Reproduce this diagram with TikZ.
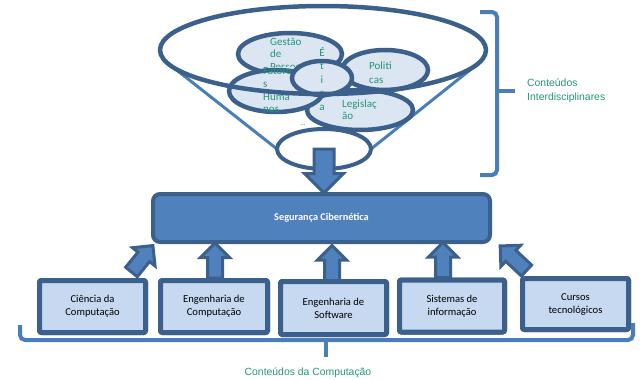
\documentclass[tikz,border=0pt]{standalone}
\usepackage{fontspec}
\setmainfont{Carlito}
\newfontfamily\labelfont{Liberation Sans}
\usetikzlibrary{shapes.geometric,shapes.arrows,calc}
\definecolor{darkblue}{RGB}{59,96,140}
\definecolor{midblue}{RGB}{79,129,189}
\definecolor{lineblue}{RGB}{74,126,187}
\definecolor{boxfill}{RGB}{198,217,241}
\definecolor{petal}{RGB}{220,230,242}
\definecolor{labelgreen}{RGB}{34,150,118}
\begin{document}
\begin{tikzpicture}[x=1pt,y=-1pt,
  petalshape/.style={ellipse, draw=darkblue, line width=4.5pt, fill=petal, inner sep=0, outer sep=0},
  petaltext/.style={text=labelgreen, font=\fontsize{11}{12.5}\selectfont, align=left, inner sep=0, anchor=north west},
  rimline/.style={draw=darkblue, line width=4.5pt},
  funnelside/.style={draw=lineblue, line width=3pt},
  blockarrow/.style={single arrow, draw=darkblue, fill=midblue, line width=3pt, inner xsep=0, inner ysep=6pt, outer sep=0,
    single arrow head extend=7pt, minimum width=26pt, minimum height=35pt},
  coursebox/.style={rectangle, draw=darkblue, fill=boxfill, line width=5pt, rounded corners=2pt,
    minimum width=106pt, minimum height=52pt, align=center, inner sep=0,
    font=\fontsize{10.6}{13}\selectfont},
  bracket/.style={draw=lineblue, line width=4pt, rounded corners=5pt},
  greenlabel/.style={text=labelgreen, font=\labelfont\fontsize{10.4}{14}\selectfont, inner sep=0}
]
\useasboundingbox (0,0) rectangle (640,380);

% funnel rim (outline drawn last) and its narrow end
\path node[ellipse, minimum width=326pt, minimum height=88pt, inner sep=0, outer sep=0] (bigrim) at (323,50) {};
\node[ellipse, minimum width=94pt, minimum height=40pt, inner sep=0, outer sep=0] (narrow) at (324,149) {};
\draw[funnelside] (bigrim.184) -- (narrow.west);
\draw[funnelside] (bigrim.355.6) -- (narrow.east);
\draw[draw=darkblue, line width=4pt, fill=white] (narrow.center) ellipse [x radius=47, y radius=20];

% interdisciplinary topics
\node[petalshape, minimum width=106pt, minimum height=40pt] (legis) at (360,110) {};
\node[petaltext] (legistext) at (342,99.5) {Legislaç\\ão};

\node[petalshape, minimum width=104pt, minimum height=42pt] (gestao) at (290,54) {};
\begin{scope}
  \clip (230,30) rectangle (345,66.5);
  \node[petaltext] (gestaotext) at (270,37.5) {Gestão\\de\\Pessoas};
\end{scope}

\node[petalshape, minimum width=94pt, minimum height=42pt] (fatores) at (276,91) {};
\node[petaltext, font=\fontsize{11}{12.7}\selectfont] (fatorestext) at (263,67.5) {Fatore\\s\\Huma\\nos};

\node[petalshape, minimum width=86pt, minimum height=40pt] (politicas) at (385,70) {};
\node[petaltext, font=\fontsize{11}{14}\selectfont] (politicastext) at (369,61.5) {Politi\\cas};

\node[petalshape, minimum width=60pt, minimum height=34pt] (etica) at (322,78) {};
\node[petaltext, anchor=north, align=center, font=\fontsize{11}{13.5}\selectfont] (eticatext) at (322,47) {É\\t\\i\\c\\a};
\node[text=labelgreen, font=\fontsize{7}{7}\selectfont, inner sep=0] (more) at (303,125) {...};

\draw[rimline] (bigrim.center) ellipse [x radius=163, y radius=44];

% central block
\node[rectangle, draw=darkblue, fill=midblue, line width=4pt, rounded corners=7pt,
  minimum width=337pt, minimum height=48pt, inner sep=0,
  font=\bfseries\fontsize{10.3}{12}\selectfont, text=white] (seguranca) at (321.5,218) {Segurança Cibernética};

\node[blockarrow, rotate=-90, anchor=tail, minimum height=44pt, minimum width=36pt,
  inner ysep=8.5pt, single arrow head extend=9.5pt] (funnelarrow) at (narrow.center) {};

% computing programmes
\node[coursebox] (ciencia) at (92.5,306.5) {Ciência da\\Computação};
\node[coursebox, minimum width=107pt] (engcomp) at (214,306.5) {Engenharia de\\Computação};
\node[coursebox, minimum height=53pt] (engsoft) at (333.5,308) {Engenharia de\\Software};
\node[coursebox, minimum width=105pt] (sistemas) at (452,306) {Sistemas de\\informação};
\node[coursebox, minimum height=51pt] (cursos) at (575.5,304) {Cursos\\tecnológicos};

\node[blockarrow, rotate=51, anchor=tail, minimum height=34pt] (arrciencia) at ($(ciencia.north east)+(-16.5,-6)$) {};
\node[blockarrow, rotate=90, anchor=tail] (arrengcomp) at ($(engcomp.north)+(1,0)$) {};
\node[blockarrow, rotate=90, anchor=tail] (arrengsoft) at ($(engsoft.north)+(-1.5,1.5)$) {};
\node[blockarrow, rotate=90, anchor=tail] (arrsistemas) at ($(sistemas.north)+(-9,0)$) {};
\node[blockarrow, rotate=137, anchor=tail, minimum height=36pt] (arrcursos) at ($(cursos.north west)+(6.5,-5.5)$) {};

% redraw the course boxes over the arrow tails
\node[coursebox] at (ciencia) {Ciência da\\Computação};
\node[coursebox, minimum width=107pt] at (engcomp) {Engenharia de\\Computação};
\node[coursebox, minimum height=53pt] at (engsoft) {Engenharia de\\Software};
\node[coursebox, minimum width=105pt] at (sistemas) {Sistemas de\\informação};
\node[coursebox, minimum height=51pt] at (cursos) {Cursos\\tecnológicos};

% braces and their labels
\draw[bracket] (480,12) -- (497,12) -- (497,175) -- (480,175);
\draw[bracket] (497,91) -- (515,91);
\node[greenlabel, anchor=west, align=left] (interlabel) at (527,91) {Conteúdos\\Interdisciplinares};

\draw[bracket] (20,325) -- (20,340) -- (633,340) -- (633,323);
\draw[bracket] (326,340) -- (326,357);
\node[greenlabel] (complabel) at (308,373) {Conteúdos da Computação};
\end{tikzpicture}
\end{document}
